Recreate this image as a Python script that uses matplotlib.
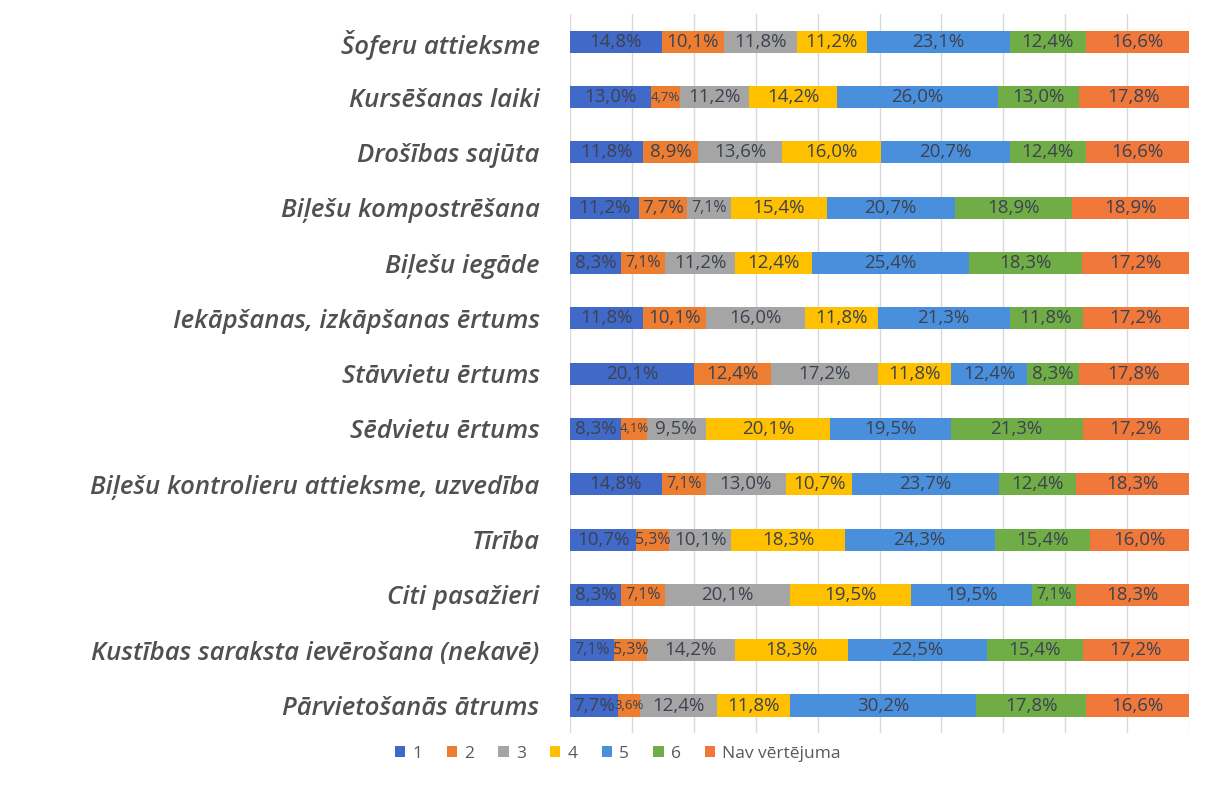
import matplotlib.pyplot as plt
import numpy as np

categories = [
    "Šoferu attieksme",
    "Kursēšanas laiki",
    "Drošības sajūta",
    "Biļešu kompostrēšana",
    "Biļešu iegāde",
    "Iekāpšanas, izkāpšanas ērtums",
    "Stāvvietu ērtums",
    "Sēdvietu ērtums",
    "Biļešu kontrolieru attieksme, uzvedība",
    "Tīrība",
    "Citi pasažieri",
    "Kustības saraksta ievērošana (nekavē)",
    "Pārvietošanās ātrums",
]
series_names = ["1", "2", "3", "4", "5", "6", "Nav vērtējuma"]

s1 = [14.8, 13.0, 11.8, 11.2, 8.3, 11.8, 20.1, 8.3, 14.8, 10.7, 8.3, 7.1, 7.7]
s2 = [10.1, 4.7, 8.9, 7.7, 7.1, 10.1, 12.4, 4.1, 7.1, 5.3, 7.1, 5.3, 3.6]
s3 = [11.8, 11.2, 13.6, 7.1, 11.2, 16.0, 17.2, 9.5, 13.0, 10.1, 20.1, 14.2, 12.4]
s4 = [11.2, 14.2, 16.0, 15.4, 12.4, 11.8, 11.8, 20.1, 10.7, 18.3, 19.5, 18.3, 11.8]
s5 = [23.1, 26.0, 20.7, 20.7, 25.4, 21.3, 12.4, 19.5, 23.7, 24.3, 19.5, 22.5, 30.2]
s6 = [12.4, 13.0, 12.4, 18.9, 18.3, 11.8, 8.3, 21.3, 12.4, 15.4, 7.1, 15.4, 17.8]
s_nav = [16.6, 17.8, 16.6, 18.9, 17.2, 17.2, 17.8, 17.2, 18.3, 16.0, 18.3, 17.2, 16.6]

colors = ["#4169C8", "#ED7D31", "#A5A5A5", "#FFC000", "#4A8FDC", "#70AD47", "#F0783A"]

plt.rcParams["font.family"] = ["Open Sans", "DejaVu Sans"]

data = np.array([s1, s2, s3, s4, s5, s6, s_nav])
totals = data.sum(axis=0)
pct = data / totals * 100

fig = plt.figure(figsize=(12.07, 7.85), dpi=100)
ax = fig.add_axes([0.4723, 0.066, 0.5128, 0.916])

y = np.arange(len(categories))
left = np.zeros(len(categories))
for i, name in enumerate(series_names):
    bars = ax.barh(y, pct[i], left=left, height=0.4, color=colors[i],
                   label=name, zorder=2)
    for j, b in enumerate(bars):
        # narrow segments get a smaller label so the texts stay readable
        w = pct[i][j]
        fs = 13.5 if w >= 7.5 else (11.5 if w >= 5 else 9.5)
        ax.text(left[j] + w / 2, y[j], f"{data[i][j]:.1f}%".replace(".", ","),
                ha="center", va="center", fontsize=fs, color="#3c4250", zorder=3)
    left += pct[i]

ax.set_xlim(0, 100)
ax.set_ylim(len(categories) - 0.5, -0.5)
ax.set_xticks(np.arange(0, 101, 10))
ax.set_xticklabels([])
ax.tick_params(axis="x", length=0)
ax.tick_params(axis="y", length=0, pad=22)
ax.set_yticks(y)
ax.set_yticklabels(categories, fontsize=18.5, fontstyle="italic", fontweight="semibold",
                   color="#505050")
ax.grid(axis="x", color="#D9D9D9", lw=1, zorder=0)
for sp in ax.spines.values():
    sp.set_visible(False)

fig.legend(loc="center", bbox_to_anchor=(0.512, 0.04), ncol=7, frameon=False,
           fontsize=12.5, handlelength=0.6, handleheight=0.6, columnspacing=1.4,
           handletextpad=0.4, labelcolor="#595959")

fig.savefig("out.png", dpi=100)
